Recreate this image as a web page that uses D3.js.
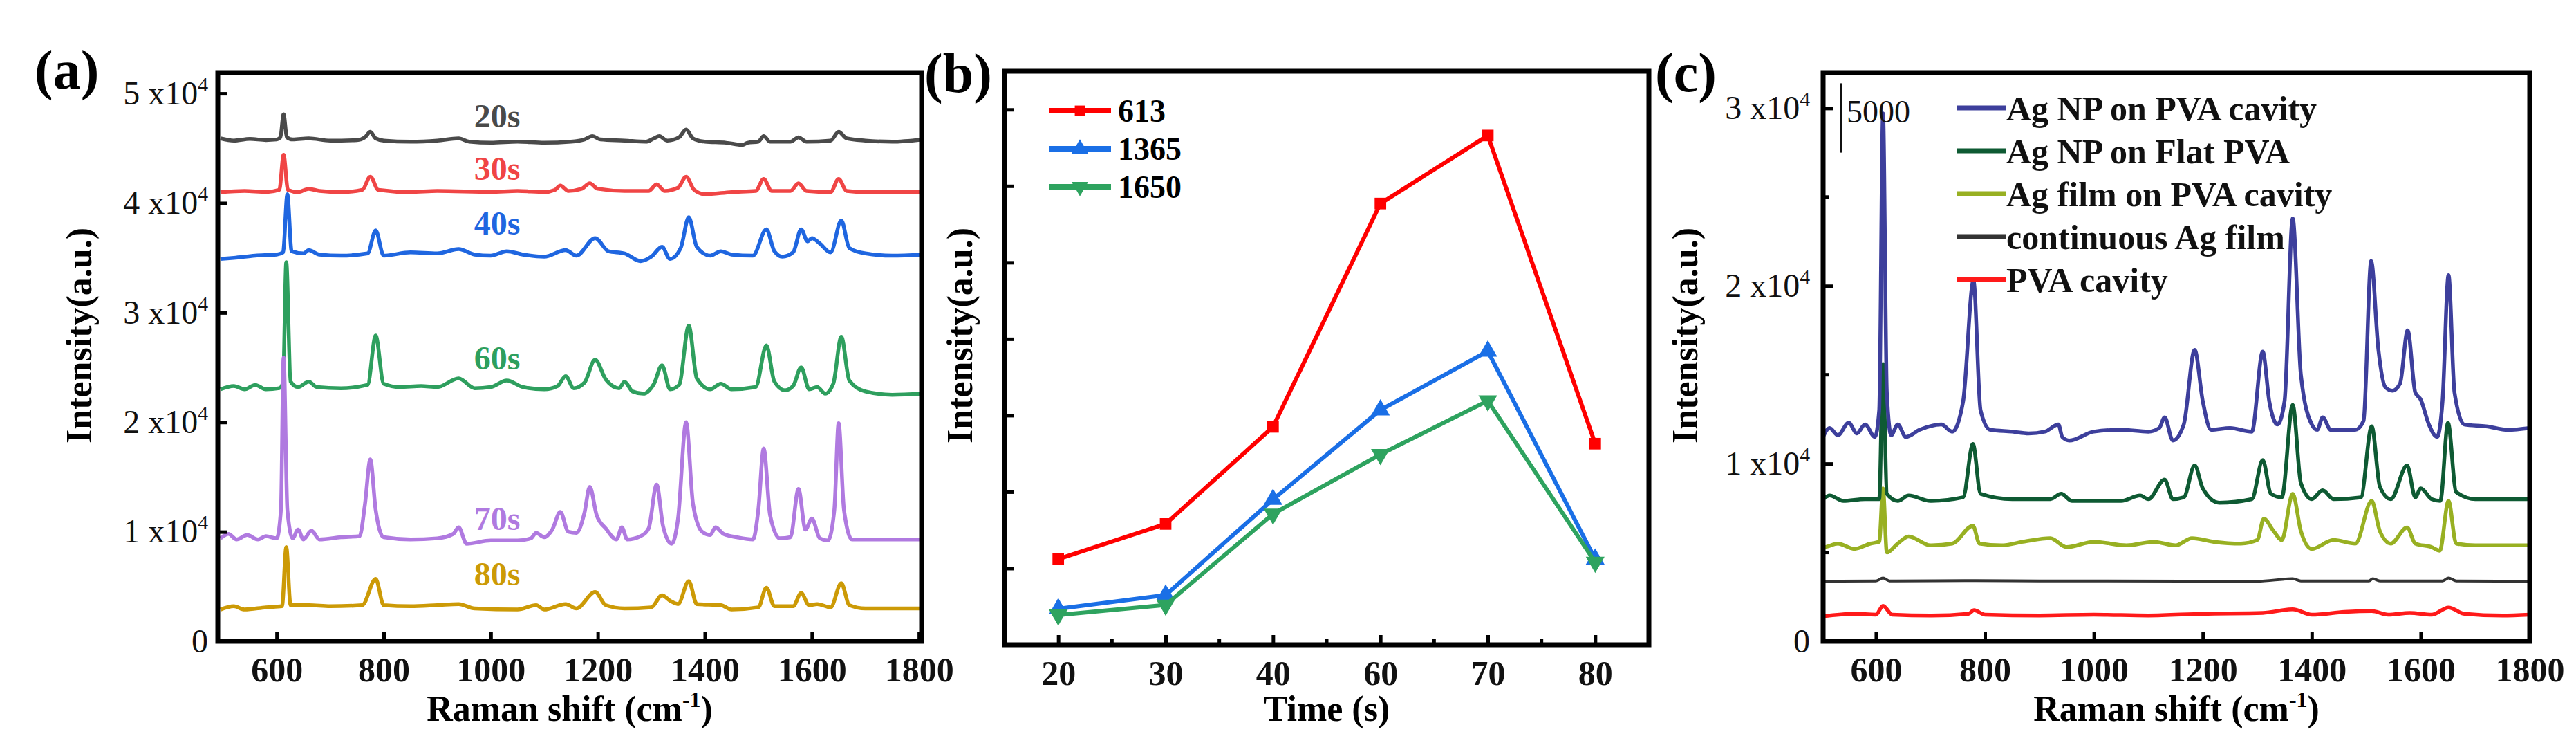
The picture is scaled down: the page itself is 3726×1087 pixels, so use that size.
<!DOCTYPE html>
<html>
<head>
<meta charset="utf-8">
<script src="https://cdn.jsdelivr.net/npm/d3@7"></script>
<style>
  body { margin: 0; background: #fff; }
  text { font-family: "Liberation Serif", "Times New Roman", serif; }
</style>
</head>
<body>
<script>
// ---------- data: panel (a), Raman spectra vs. deposition time ----------
const timeNames = ['20s', '30s', '40s', '60s', '70s', '80s'];
const timeLabelY = [48000, 43200, 38200, 25900, 11200, 6200];   // where the name sits (intensity units)

const spec20 = [[495,45900],[520,45700],[550,45850],[580,45750],[600,45800],[607,46000],[613,48100],[619,46000],[630,45800],[660,45900],[700,45700],[750,45750],[765,46000],[775,46500],[785,45900],[800,45700],[850,45600],[900,45700],[940,45900],[960,45600],[1000,45500],[1050,45600],[1100,45500],[1150,45600],[1175,45800],[1190,46100],[1205,45800],[1250,45700],[1290,45600],[1305,45900],[1315,46100],[1330,45700],[1352,46000],[1365,46700],[1378,45900],[1400,45600],[1440,45500],[1470,45300],[1480,45500],[1500,45600],[1510,46100],[1522,45600],[1560,45600],[1575,46000],[1590,45600],[1635,45700],[1650,46500],[1665,45900],[1700,45700],[1750,45600],[1805,45800]];
const spec30 = [[495,41000],[540,41100],[580,41000],[605,41200],[613,44400],[621,41200],[640,41000],[660,41300],[680,41100],[720,41000],[760,41200],[775,42400],[790,41200],[850,41000],[900,41100],[1000,41000],[1050,41100],[1100,41000],[1120,41200],[1130,41600],[1145,41100],[1170,41300],[1185,41800],[1200,41300],[1250,41100],[1295,41100],[1310,41700],[1325,41100],[1350,41400],[1365,42400],[1380,41200],[1400,40800],[1450,41000],[1495,41100],[1510,42200],[1525,41100],[1560,41100],[1575,41800],[1590,41100],[1635,41000],[1650,42200],[1665,41100],[1700,41000],[1805,41000]];
const spec40 = [[495,34900],[520,35000],[560,35200],[600,35300],[612,35500],[620,40800],[628,35600],[650,35400],[660,35700],[680,35300],[720,35200],[770,35400],[785,37500],[800,35200],[850,35500],[900,35400],[940,35800],[970,35300],[1000,35200],[1030,35600],[1060,35300],[1100,35100],[1140,35700],[1160,35200],[1195,36800],[1220,35600],[1250,35400],[1280,34700],[1300,35100],[1320,36000],[1335,34900],[1355,35900],[1370,38700],[1385,36000],[1410,35200],[1430,35600],[1450,35300],[1490,35200],[1515,37600],[1530,35600],[1545,35100],[1565,35500],[1580,37600],[1592,36500],[1600,36800],[1615,36300],[1635,35500],[1655,38400],[1670,35900],[1700,35400],[1750,35200],[1805,35300]];
const spec60 = [[495,23000],[520,23300],[540,23000],[560,23400],[580,23000],[605,23100],[612,23600],[618,34600],[626,23700],[640,23200],[660,23700],[675,23200],[720,23100],[770,23400],[785,27900],[800,23500],[830,23200],[870,23300],[900,23200],[940,24000],[970,23100],[1000,23200],[1030,23800],[1060,23200],[1100,23000],[1125,23300],[1140,24200],[1155,23100],[1175,23600],[1195,25700],[1215,23900],[1240,23100],[1250,23700],[1265,22800],[1285,22600],[1305,23500],[1320,25200],[1335,23000],[1352,23400],[1370,28800],[1385,24000],[1410,23000],[1430,23500],[1450,23000],[1495,23200],[1515,27000],[1530,23700],[1550,22900],[1565,23300],[1580,25000],[1595,23000],[1610,23200],[1625,22600],[1640,23500],[1655,27800],[1670,23800],[1700,22800],[1750,22500],[1805,22600]];
const spec70 = [[495,9400],[510,9800],[525,9300],[545,9700],[565,9300],[580,9600],[600,9400],[608,12000],[613,25900],[620,12000],[630,9400],[640,10200],[650,9300],[665,10100],[680,9300],[720,9500],[755,9600],[765,12500],[775,16600],[785,12000],[800,9500],[850,9300],[900,9400],[930,9800],[940,10400],[955,8900],[1000,9200],[1050,9200],[1075,9400],[1085,9900],[1100,9500],[1115,10200],[1130,11800],[1145,10000],[1160,9900],[1175,11700],[1185,14100],[1198,11500],[1215,10300],[1235,9300],[1245,10400],[1255,9300],[1280,9600],[1295,10300],[1310,14300],[1322,10500],[1338,8900],[1350,11200],[1365,20000],[1378,12500],[1395,10000],[1410,9700],[1420,10400],[1435,9800],[1460,9500],[1490,9300],[1500,12000],[1510,17600],[1522,11500],[1540,9400],[1560,9500],[1575,13900],[1588,10200],[1600,11200],[1615,9400],[1630,9200],[1642,12000],[1650,19900],[1660,12000],[1675,9300],[1720,9300],[1805,9300]];
const spec80 = [[495,2900],[520,3200],[540,2900],[580,3100],[610,3200],[618,8600],[626,3300],[660,3300],[700,3200],[760,3300],[785,5700],[800,3300],[850,3200],[900,3300],[940,3400],[970,3000],[1050,2900],[1085,3300],[1100,2900],[1140,3400],[1160,3000],[1195,4500],[1215,3300],[1250,3000],[1300,3100],[1320,4200],[1335,3700],[1350,3400],[1370,5500],[1385,3400],[1430,3300],[1450,2900],[1500,3100],[1515,4900],[1530,3200],[1565,3200],[1580,4400],[1595,3300],[1610,3400],[1635,3100],[1655,5300],[1670,3300],[1700,3000],[1805,3000]];
const specA = [spec20, spec30, spec40, spec60, spec70, spec80];
const colorsA = ['#4a4a4a', '#f04545', '#1f66e0', '#2e9f5e', '#b07ae0', '#cc9a06'];

// ---------- data: panel (b), peak intensity vs. time ----------
const times = ['20', '30', '40', '60', '70', '80'];
const peakNames = ['613', '1365', '1650'];
const i613 = [1120, 1580, 2850, 5770, 6660, 2630];
const i1365 = [470, 650, 1900, 3070, 3840, 1120];
const i1650 = [390, 520, 1710, 2490, 3190, 1080];
const colorsB = ['#ff0000', '#1a6fe6', '#2ea35f'];

// ---------- data: panel (c), different substrates ----------
const subNames = ['Ag NP on PVA cavity', 'Ag NP on Flat PVA', 'Ag film on PVA cavity', 'continuous Ag film', 'PVA cavity'];
const cNpCavity = [[500,11300],[515,12000],[530,11600],[550,12300],[565,11700],[580,12200],[598,11500],[606,13000],[613,29700],[620,14000],[628,11600],[640,12200],[655,11500],[680,11900],[720,12200],[740,11800],[760,13500],[779,20300],[792,13000],[810,11900],[850,11800],[880,11700],[910,11800],[935,12200],[942,11500],[955,11300],[1000,11800],[1050,11900],[1100,11800],[1120,12000],[1130,12600],[1145,11300],[1165,12200],[1185,16400],[1200,13500],[1215,11900],[1250,12000],[1290,11800],[1310,16300],[1322,13500],[1337,12200],[1350,13500],[1365,23800],[1380,15000],[1400,12200],[1410,11900],[1420,12600],[1435,11900],[1480,11900],[1495,12400],[1509,21400],[1522,16500],[1535,14300],[1548,14100],[1562,14500],[1576,17500],[1590,14000],[1600,13600],[1615,12200],[1630,11500],[1640,13500],[1651,20600],[1662,14000],[1680,12200],[1720,12100],[1760,11900],[1800,12000]];
const cNpFlat = [[500,7900],[515,8200],[540,7900],[580,8000],[606,8000],[613,15600],[620,8300],[640,7900],[660,8200],[700,7900],[760,8100],[778,11100],[792,8300],[850,8000],[920,8000],[940,8300],[960,7900],[1050,7900],[1085,8200],[1100,8000],[1130,9100],[1145,8000],[1165,8100],[1185,9900],[1200,8600],[1230,7800],[1290,8000],[1310,10200],[1325,8300],[1345,8100],[1365,13300],[1380,8900],[1400,8000],[1420,8500],[1440,8000],[1490,8100],[1510,12100],[1525,8700],[1545,8000],[1575,9900],[1590,8100],[1600,8600],[1620,8000],[1636,7900],[1650,12300],[1665,8400],[1700,8000],[1800,8000]];
const cFilmCavity = [[500,5800],[505,5300],[530,5500],[560,5200],[590,5500],[606,5600],[613,8600],[620,5000],[640,5500],[660,5900],[700,5400],[740,5500],[778,6500],[790,5500],[830,5400],[870,5600],[920,5800],[950,5300],[1000,5600],[1060,5400],[1110,5600],[1150,5400],[1180,5800],[1220,5600],[1270,5500],[1300,5700],[1312,6900],[1330,6200],[1345,5700],[1365,8300],[1380,6200],[1400,5200],[1440,5700],[1480,5500],[1510,7900],[1525,6200],[1545,5500],[1575,6400],[1590,5500],[1620,5300],[1635,5100],[1651,7900],[1665,5500],[1700,5400],[1800,5400]];
const cContFilm = [[500,3380],[600,3400],[613,3560],[625,3400],[780,3420],[900,3400],[1300,3380],[1365,3520],[1380,3400],[1505,3400],[1512,3520],[1525,3400],[1640,3400],[1651,3560],[1665,3400],[1800,3380]];
const cPva = [[500,1400],[560,1550],[600,1500],[613,2000],[630,1500],[700,1450],[770,1550],[780,1750],[800,1500],[900,1450],[1000,1500],[1100,1450],[1200,1550],[1310,1600],[1365,1800],[1400,1500],[1460,1650],[1510,1700],[1540,1500],[1580,1600],[1620,1500],[1651,1900],[1680,1550],[1750,1450],[1800,1500]];
const specC = [cNpCavity, cNpFlat, cFilmCavity, cContFilm, cPva];
const colorsC = ['#3d3f9c', '#0e5a33', '#98b022', '#333333', '#ff1a1a'];

const shiftTicks = [600, 800, 1000, 1200, 1400, 1600, 1800];

// ---------- drawing ----------
const svg = d3.select('body').append('svg')
  .attr('width', 3726)
  .attr('height', 1087);

svg.append('rect').attr('width', 3726).attr('height', 1087).attr('fill', '#fff');

// spectra get a monotone curve so the peaks stay rounded without overshoot
const line = (x, y) => d3.line().curve(d3.curveMonotoneX).x(d => x(d[0])).y(d => y(d[1]));

// y labels like "5 x10^4"
function sciLabels(axisG, fontSize) {
  axisG.selectAll('.tick text').each(function(d) {
    const t = d3.select(this).text(null)
      .attr('font-size', fontSize)
      .attr('font-weight', 'normal')
      .attr('fill', '#111');
    if (d === 0) { t.text('0'); return; }
    t.append('tspan').text(d / 1e4 + ' x10');
    t.append('tspan').attr('dy', -fontSize * 0.4).attr('font-size', fontSize * 0.62).text('4');
  });
}

function styleAxis(g) {
  g.select('.domain').remove();
  g.selectAll('.tick line').attr('stroke', '#000').attr('stroke-width', 5);
}

function frame(box) {
  svg.append('rect')
    .attr('x', box.left).attr('y', box.top)
    .attr('width', box.right - box.left).attr('height', box.bottom - box.top)
    .attr('fill', 'none').attr('stroke', '#000').attr('stroke-width', 7);
}

function titles(box, xTitle, yX, sup) {
  const cx = (box.left + box.right) / 2;
  const xt = svg.append('text')
    .attr('x', cx).attr('y', 1042)
    .attr('text-anchor', 'middle')
    .attr('font-size', 52).attr('font-weight', 'bold')
    .text(xTitle);
  if (sup) {
    xt.append('tspan').attr('dy', -20).attr('font-size', 32).text('-1');
    xt.append('tspan').attr('dy', 20).text(')');
  }
  svg.append('text')
    .attr('transform', `translate(${yX},485) rotate(-90)`)
    .attr('text-anchor', 'middle')
    .attr('font-size', 52).attr('font-weight', 'bold')
    .text('Intensity(a.u.)');
}

function panelLabel(x, y, s) {
  svg.append('text').attr('x', x).attr('y', y)
    .attr('font-size', 80).attr('font-weight', 'bold')
    .text(s);
}

// ===== panel (a) =====
{
  const box = { left: 315, right: 1333, top: 105, bottom: 927 };
  const x = d3.scaleLinear().domain([490, 1805]).range([box.left, box.right]);
  const y = d3.scaleLinear().domain([0, 51900]).range([box.bottom, box.top]);

  svg.append('clipPath').attr('id', 'clipA').append('rect')
    .attr('x', box.left).attr('y', box.top)
    .attr('width', box.right - box.left).attr('height', box.bottom - box.top);

  const g = svg.append('g').attr('clip-path', 'url(#clipA)');
  specA.forEach((s, i) => {
    g.append('path').datum(s)
      .attr('fill', 'none').attr('stroke', colorsA[i])
      .attr('stroke-width', 5.5).attr('stroke-linejoin', 'round')
      .attr('d', line(x, y));
  });

  svg.selectAll('.nameA').data(timeNames).enter().append('text')
    .attr('x', x(1012)).attr('y', (d, i) => y(timeLabelY[i]))
    .attr('dy', '0.35em').attr('text-anchor', 'middle')
    .attr('font-size', 48).attr('font-weight', 'bold')
    .attr('fill', (d, i) => colorsA[i])
    .text(d => d);

  const xa = svg.append('g').attr('transform', `translate(0,${box.bottom})`)
    .call(d3.axisBottom(x).tickValues(shiftTicks).tickFormat(d3.format('d')).tickSize(-14).tickPadding(22));
  styleAxis(xa);
  xa.selectAll('text').attr('font-size', 50).attr('font-weight', 'bold').attr('fill', '#111');

  const ya = svg.append('g').attr('transform', `translate(${box.left},0)`)
    .call(d3.axisLeft(y).tickValues([0, 1e4, 2e4, 3e4, 4e4, 5e4]).tickSize(-14).tickPadding(14));
  styleAxis(ya);
  sciLabels(ya, 48);

  frame(box);
  titles(box, 'Raman shift (cm', 132, true);
  panelLabel(50, 128, '(a)');
}

// ===== panel (b) =====
{
  const box = { left: 1453, right: 2385, top: 103, bottom: 932 };
  const x = d3.scalePoint().domain(times).range([box.left, box.right]).padding(0.5);
  const y = d3.scaleLinear().domain([0, 7500]).range([box.bottom, box.top]);
  const series = [i613, i1365, i1650];
  const symbols = [d3.symbolSquare, d3.symbolTriangle, d3.symbolTriangle];
  const rot = [0, 0, 180];

  const lb = d3.line().x((d, i) => x(times[i])).y(d => y(d));
  series.forEach((s, k) => {
    svg.append('path').datum(s)
      .attr('fill', 'none').attr('stroke', colorsB[k])
      .attr('stroke-width', 6).attr('stroke-linejoin', 'round')
      .attr('d', lb);
    svg.selectAll('.mk' + k).data(s).enter().append('path')
      .attr('transform', (d, i) => `translate(${x(times[i])},${y(d)}) rotate(${rot[k]})`)
      .attr('d', d3.symbol().type(symbols[k]).size(k === 0 ? 280 : 320))
      .attr('fill', colorsB[k]);
  });

  // legend
  peakNames.forEach((n, k) => {
    const ly = 160 + k * 55;
    svg.append('line').attr('x1', 1517).attr('x2', 1607).attr('y1', ly).attr('y2', ly)
      .attr('stroke', colorsB[k]).attr('stroke-width', 8);
    svg.append('path')
      .attr('transform', `translate(1562,${ly}) rotate(${rot[k]})`)
      .attr('d', d3.symbol().type(symbols[k]).size(k === 0 ? 220 : 250))
      .attr('fill', colorsB[k]);
    svg.append('text').attr('x', 1617).attr('y', ly).attr('dy', '0.35em')
      .attr('font-size', 46).attr('font-weight', 'bold').text(n);
  });

  const xa = svg.append('g').attr('transform', `translate(0,${box.bottom})`)
    .call(d3.axisBottom(x).tickSize(-14).tickPadding(22));
  styleAxis(xa);
  xa.selectAll('text').attr('font-size', 50).attr('font-weight', 'bold').attr('fill', '#111');
  // minor ticks halfway between categories
  const step = x.step();
  svg.selectAll('.minorB').data(times.slice(0, -1)).enter().append('line')
    .attr('x1', d => x(d) + step / 2).attr('x2', d => x(d) + step / 2)
    .attr('y1', box.bottom).attr('y2', box.bottom - 8)
    .attr('stroke', '#000').attr('stroke-width', 5);

  const ya = svg.append('g').attr('transform', `translate(${box.left},0)`)
    .call(d3.axisLeft(y).tickValues(d3.range(1000, 7001, 1000)).tickSize(-14).tickFormat(''));
  styleAxis(ya);

  frame(box);
  titles(box, 'Time (s)', 1406, false);
  panelLabel(1337, 133, '(b)');
}

// ===== panel (c) =====
{
  const box = { left: 2637, right: 3659, top: 105, bottom: 927 };
  const x = d3.scaleLinear().domain([503, 1800]).range([box.left, box.right]);
  const y = d3.scaleLinear().domain([0, 32000]).range([box.bottom, box.top]);

  svg.append('clipPath').attr('id', 'clipC').append('rect')
    .attr('x', box.left).attr('y', box.top)
    .attr('width', box.right - box.left).attr('height', box.bottom - box.top);

  const g = svg.append('g').attr('clip-path', 'url(#clipC)');
  // draw bottom series first so the top spectrum stays in front
  specC.map((s, i) => [s, i]).reverse().forEach(([s, i]) => {
    g.append('path').datum(s)
      .attr('fill', 'none').attr('stroke', colorsC[i])
      .attr('stroke-width', i === 3 ? 4 : 5.5).attr('stroke-linejoin', 'round')
      .attr('d', line(x, y));
  });

  // scale bar
  svg.append('line').attr('x1', x(536)).attr('x2', x(536))
    .attr('y1', y(31400)).attr('y2', y(27500))
    .attr('stroke', '#111').attr('stroke-width', 3.5);
  svg.append('text').attr('x', x(546)).attr('y', y(29200))
    .attr('font-size', 46).attr('fill', '#111').text('5000');

  // legend
  subNames.forEach((n, k) => {
    const ly = 156 + k * 62;
    svg.append('line').attr('x1', 2830).attr('x2', 2902).attr('y1', ly).attr('y2', ly)
      .attr('stroke', colorsC[k]).attr('stroke-width', 7);
    svg.append('text').attr('x', 2902).attr('y', ly).attr('dy', '0.35em')
      .attr('font-size', 50).attr('font-weight', 'bold').attr('fill', '#111').text(n);
  });

  const xa = svg.append('g').attr('transform', `translate(0,${box.bottom})`)
    .call(d3.axisBottom(x).tickValues(shiftTicks).tickFormat(d3.format('d')).tickSize(-14).tickPadding(22));
  styleAxis(xa);
  xa.selectAll('text').attr('font-size', 50).attr('font-weight', 'bold').attr('fill', '#111');

  const ya = svg.append('g').attr('transform', `translate(${box.left},0)`)
    .call(d3.axisLeft(y).tickValues([0, 1e4, 2e4, 3e4]).tickSize(-14).tickPadding(19));
  styleAxis(ya);
  sciLabels(ya, 48);
  svg.selectAll('.minorC').data([5000, 15000, 25000]).enter().append('line')
    .attr('x1', box.left).attr('x2', box.left + 8)
    .attr('y1', d => y(d)).attr('y2', d => y(d))
    .attr('stroke', '#000').attr('stroke-width', 5);

  frame(box);
  titles(box, 'Raman shift (cm', 2455, true);
  panelLabel(2394, 132, '(c)');
}
</script>
</body>
</html>
